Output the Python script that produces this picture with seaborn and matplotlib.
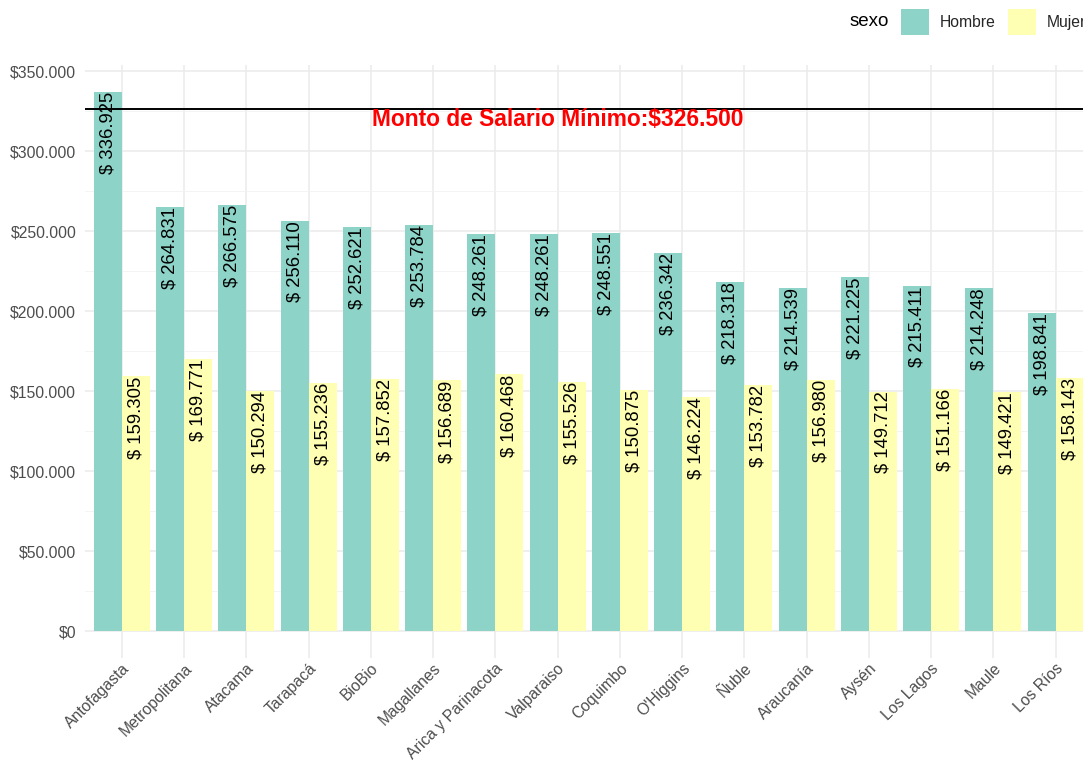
import matplotlib
matplotlib.use("Agg")
import matplotlib.pyplot as plt
from matplotlib.patches import Patch
from matplotlib.ticker import FuncFormatter, MultipleLocator
import seaborn as sns
import pandas as pd

# --- DATA ---
regiones = ['Antofagasta', 'Metropolitana', 'Atacama', 'Tarapacá', 'BioBio', 'Magallanes',
            'Arica y Parinacota', 'Valparaiso', 'Coquimbo', "O'Higgins", 'Ñuble', 'Araucanía',
            'Aysén', 'Los Lagos', 'Maule', 'Los Ríos']
hombre = [336925, 264831, 266575, 256110, 252621, 253784, 248261, 248261,
          248551, 236342, 218318, 214539, 221225, 215411, 214248, 198841]
mujer = [159305, 169771, 150294, 155236, 157852, 156689, 160468, 155526,
         150875, 146224, 153782, 156980, 149712, 151166, 149421, 158143]
sexos = ['Hombre', 'Mujer']
colores = ['#8DD3C7', '#FFFFB3']
salario_minimo = 326500

df = pd.DataFrame({
    'region': regiones * 2,
    'sexo': ['Hombre'] * len(regiones) + ['Mujer'] * len(regiones),
    'monto': hombre + mujer,
})

def miles(v):
    return f"{int(round(v)):,}".replace(",", ".")

sns.set_theme(style="whitegrid")
plt.rcParams['font.family'] = ['Liberation Sans', 'DejaVu Sans']

fig = plt.figure(figsize=(10.83, 7.65), dpi=100)
ax = fig.add_axes([0.0781, 0.1399, 0.931, 0.775])

sns.barplot(data=df, x='region', y='monto', hue='sexo', order=regiones, hue_order=sexos,
            palette=colores, width=0.9, gap=0, saturation=1, errorbar=None,
            linewidth=0, ax=ax, legend=False, zorder=2)

# value labels inside the bars, rotated
for cont in ax.containers:
    for bar in cont:
        h = bar.get_height()
        ax.text(bar.get_x() + bar.get_width() / 2, h, f"$ {miles(h)}", rotation=90,
                rotation_mode='anchor', ha='right', va='center', fontsize=13.3,
                color='black', zorder=4)

# minimum wage line
ax.axhline(salario_minimo, color='black', lw=1.4, zorder=3)
ax.text(7, 320000, f"Monto de Salario Mínimo:${miles(salario_minimo)}", color='red',
        fontsize=16.4, fontweight='bold', ha='center', va='center', zorder=5)

ax.yaxis.set_major_locator(MultipleLocator(50000))
ax.yaxis.set_minor_locator(MultipleLocator(25000))
ax.yaxis.set_major_formatter(FuncFormatter(lambda v, p: f"${miles(v)}"))
ax.set_xlim(-0.6, len(regiones) - 0.4)
ax.set_ylim(-max(hombre) * 0.05, max(hombre) * 1.05)

ax.grid(True, which='major', color='#EBEBEB', lw=1.1, zorder=0)
ax.grid(True, which='minor', axis='y', color='#F2F2F2', lw=0.6, zorder=0)
ax.set_axisbelow(True)
for s in ax.spines.values():
    s.set_visible(False)
ax.set_xlabel('')
ax.set_ylabel('')
ax.tick_params(axis='both', which='both', length=0, colors='#4D4D4D', labelsize=11.3)
ax.tick_params(axis='y', pad=6)
ax.tick_params(axis='x', pad=2)
plt.setp(ax.get_xticklabels(), rotation=45, ha='right', rotation_mode='anchor')
ax.set_facecolor('white')
fig.patch.set_facecolor('white')

# legend on top, horizontal
handles = [Patch(facecolor=c, edgecolor='none') for c in colores]
fig.text(850 / 1083, 1 - 22 / 765, 'sexo', fontsize=13.5, ha='left', va='center', color='black')
fig.legend(handles, sexos, loc='center left', bbox_to_anchor=(901 / 1083, 1 - 22 / 765),
           ncol=2, frameon=False, fontsize=11.3, handlelength=1.8, handleheight=2.2,
           handletextpad=0.65, columnspacing=0.8, borderpad=0, borderaxespad=0)

fig.savefig('out.png', dpi=100, facecolor='white')
